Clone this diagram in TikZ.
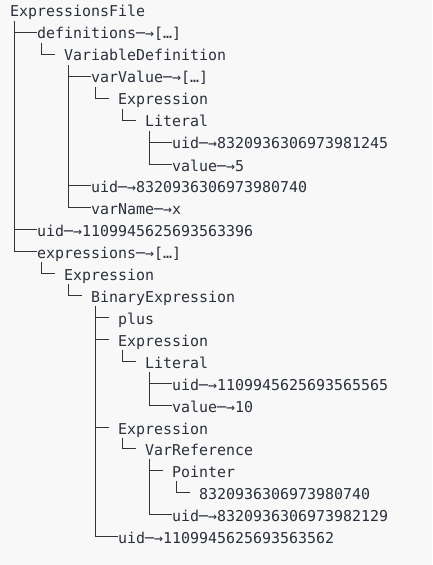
\documentclass[tikz,border=0pt]{standalone}
\usepackage{fontspec}
\setmonofont{DejaVu Sans Mono}
\usetikzlibrary{calc}
\definecolor{bgcol}{HTML}{F8F8F8}
\definecolor{txtcol}{HTML}{2A303B}
\definecolor{linecol}{HTML}{333333}
\tikzset{
  lbl/.style={anchor=base west, inner sep=0pt, outer sep=0pt, text=txtcol,
    font=\ttfamily\fontsize{14.95bp}{18bp}\selectfont},
  treeline/.style={draw=linecol, line width=1bp, line cap=butt}
}
% T-branch: horizontal from the parent's vertical to the child
\newcommand\tbranch[3]{\draw[treeline] let \p1=(#1.base west), \p2=(#2.base west) in (\x1+4.5bp,\y2+6.5bp) -- (\x2-#3,\y2+6.5bp);}
% last child: vertical from below the parent, then horizontal to the child
\newcommand\tlast[3]{\draw[treeline] let \p1=(#1.base west), \p2=(#2.base west) in (\x1+4.5bp,\y1-4bp) |- (\x2-#3,\y2+6.5bp);}
\newcommand\rowpos[2]{({10+9*#1},{floor(10.6+21.92*#2)+7})}
\begin{document}
\begin{tikzpicture}[x=1bp,y=-1bp]
\fill[bgcol] (0,0) rectangle (432,565);
\useasboundingbox (0,0) rectangle (432,565);
\node[lbl] (n0)  at \rowpos{0}{0}   {ExpressionsFile};
\node[lbl] (n1)  at \rowpos{3}{1}   {definitions─→[…]};
\node[lbl] (n2)  at \rowpos{6}{2}   {VariableDefinition};
\node[lbl] (n3)  at \rowpos{9}{3}   {varValue─→[…]};
\node[lbl] (n4)  at \rowpos{12}{4}  {Expression};
\node[lbl] (n5)  at \rowpos{15}{5}  {Literal};
\node[lbl] (n6)  at \rowpos{18}{6}  {uid─→8320936306973981245};
\node[lbl] (n7)  at \rowpos{18}{7}  {value─→5};
\node[lbl] (n8)  at \rowpos{9}{8}   {uid─→8320936306973980740};
\node[lbl] (n9)  at \rowpos{9}{9}   {varName─→x};
\node[lbl] (n10) at \rowpos{3}{10}  {uid─→1109945625693563396};
\node[lbl] (n11) at \rowpos{3}{11}  {expressions─→[…]};
\node[lbl] (n12) at \rowpos{6}{12}  {Expression};
\node[lbl] (n13) at \rowpos{9}{13}  {BinaryExpression};
\node[lbl] (n14) at \rowpos{12}{14} {plus};
\node[lbl] (n15) at \rowpos{12}{15} {Expression};
\node[lbl] (n16) at \rowpos{15}{16} {Literal};
\node[lbl] (n17) at \rowpos{18}{17} {uid─→1109945625693565565};
\node[lbl] (n18) at \rowpos{18}{18} {value─→10};
\node[lbl] (n19) at \rowpos{12}{19} {Expression};
\node[lbl] (n20) at \rowpos{15}{20} {VarReference};
\node[lbl] (n21) at \rowpos{18}{21} {Pointer};
\node[lbl] (n22) at \rowpos{21}{22} {8320936306973980740};
\node[lbl] (n23) at \rowpos{18}{23} {uid─→8320936306973982129};
\node[lbl] (n24) at \rowpos{12}{24} {uid─→1109945625693563562};
% connectors
\tbranch{n0}{n1}{0bp}
\tbranch{n0}{n10}{0bp}
\tlast{n0}{n11}{0bp}
\tlast{n1}{n2}{9bp}
\tbranch{n2}{n3}{0bp}
\tbranch{n2}{n8}{0bp}
\tlast{n2}{n9}{0bp}
\tlast{n3}{n4}{9bp}
\tlast{n4}{n5}{9bp}
\tbranch{n5}{n6}{0bp}
\tlast{n5}{n7}{0bp}
\tlast{n11}{n12}{9bp}
\tlast{n12}{n13}{9bp}
\tbranch{n13}{n14}{9bp}
\tbranch{n13}{n15}{9bp}
\tbranch{n13}{n19}{9bp}
\tlast{n13}{n24}{0bp}
\tlast{n15}{n16}{9bp}
\tbranch{n16}{n17}{0bp}
\tlast{n16}{n18}{0bp}
\tlast{n19}{n20}{9bp}
\tbranch{n20}{n21}{9bp}
\tlast{n20}{n23}{0bp}
\tlast{n21}{n22}{9bp}
\end{tikzpicture}
\end{document}
